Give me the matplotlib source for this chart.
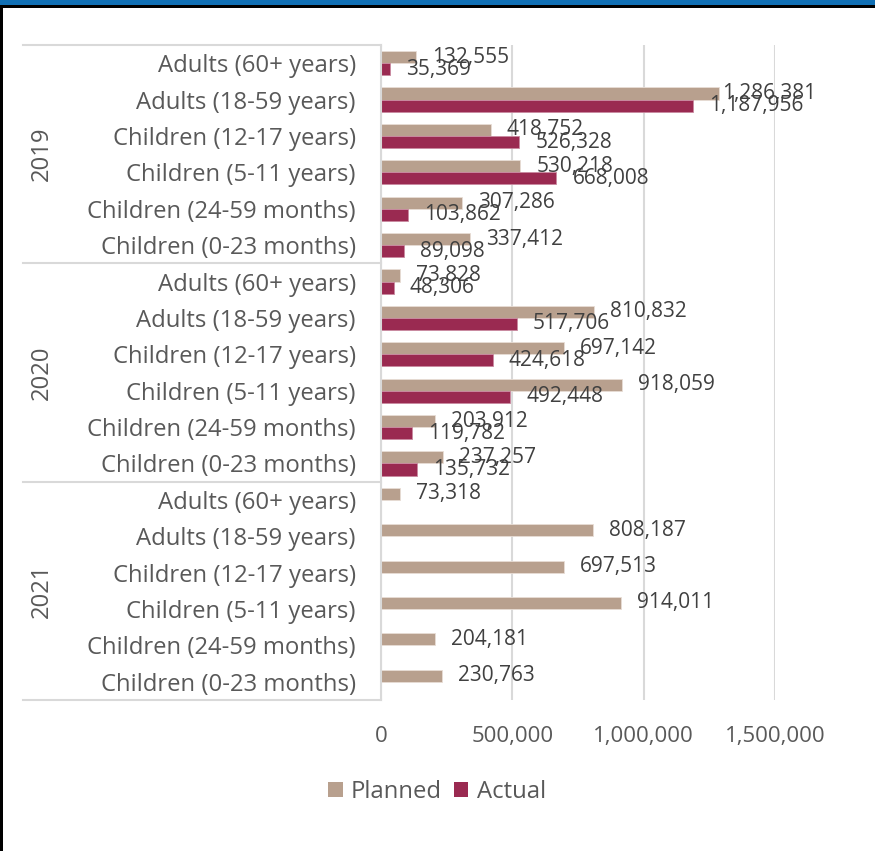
import matplotlib
matplotlib.use("Agg")
import matplotlib.pyplot as plt
from matplotlib.patches import Rectangle, Patch
import numpy as np

plt.rcParams['font.family'] = ['Open Sans', 'DejaVu Sans']

years = ["2019", "2020", "2021"]
groups = ["Adults (60+ years)", "Adults (18-59 years)", "Children (12-17 years)",
          "Children (5-11 years)", "Children (24-59 months)", "Children (0-23 months)"]

planned_2019 = [132555, 1286381, 418752, 530218, 307286, 337412]
actual_2019 = [35369, 1187956, 526328, 668008, 103862, 89098]
planned_2020 = [73828, 810832, 697142, 918059, 203912, 237257]
actual_2020 = [48306, 517706, 424618, 492448, 119782, 135732]
planned_2021 = [73318, 808187, 697513, 914011, 204181, 230763]
actual_2021 = [None, None, None, None, None, None]

x_ticks = [0, 500000, 1000000, 1500000]
x_tick_labels = ["0", "500,000", "1,000,000", "1,500,000"]

C_PLAN = "#B8A08E"
C_ACT = "#9A2A51"
C_TEXT = "#595959"
C_VAL = "#404040"
C_GRID = "#D9D9D9"

FS_CAT = 17.2
FS_VAL = 15
FS_TICK = 16

W, H = 875, 851
fig = plt.figure(figsize=(W / 100, H / 100), dpi=100)
fig.patch.set_facecolor("white")

ax_left, ax_right, ax_top, ax_bottom = 381, 775, 45, 700
ax = fig.add_axes([ax_left / W, 1 - ax_bottom / H, (ax_right - ax_left) / W, (ax_bottom - ax_top) / H])

planned = planned_2019 + planned_2020 + planned_2021
actual = actual_2019 + actual_2020 + actual_2021
labels = groups * 3
n = len(labels)
pos = np.arange(n) + 0.5
bh = 1 / 3

ax.barh(pos - bh / 2, planned, height=bh, color=C_PLAN, edgecolor="#E8DDD5", linewidth=0.6, zorder=3)
act_vals = [a if a is not None else 0 for a in actual]
act_mask = [a is not None for a in actual]
ax.barh(pos[act_mask] + bh / 2, np.array(act_vals)[act_mask], height=bh, color=C_ACT,
        edgecolor="#C98AA0", linewidth=0.6, zorder=3)

ax.set_xlim(0, 1500000)
ax.set_ylim(n, 0)

# labels that would run past the plot area are pulled back to stay inside
label_cap = 1237000
for i in range(n):
    ax.annotate(f"{planned[i]:,}", (min(planned[i], label_cap), pos[i] - bh / 2),
                xytext=(11.5, 0), textcoords="offset points", ha="left", va="center",
                fontsize=FS_VAL, color=C_VAL, annotation_clip=False, zorder=4)
    if actual[i] is not None:
        ax.annotate(f"{actual[i]:,}", (min(actual[i], label_cap), pos[i] + bh / 2),
                    xytext=(11.5, 0), textcoords="offset points", ha="left", va="center",
                    fontsize=FS_VAL, color=C_VAL, annotation_clip=False, zorder=4)

ax.set_yticks(pos)
ax.set_yticklabels(labels, fontsize=FS_CAT, color=C_TEXT)
ax.tick_params(axis="y", length=0, pad=18)
ax.set_xticks(x_ticks)
ax.set_xticklabels(x_tick_labels, fontsize=FS_TICK, color=C_TEXT)
ax.tick_params(axis="x", length=0, pad=19)

ax.grid(axis="x", color=C_GRID, linewidth=1.5, zorder=0)
ax.set_axisbelow(True)
for s in ["top", "right", "bottom"]:
    ax.spines[s].set_visible(False)
ax.spines["left"].set_color(C_GRID)
ax.spines["left"].set_linewidth(1.5)
ax.spines["left"].set_zorder(5)

# group separators and year labels in the category area
trans = ax.get_yaxis_transform()
x_sep0 = (23 - ax_left) / (ax_right - ax_left)
for b in [0, 6, 12, 18]:
    ax.plot([x_sep0, 0], [b, b], transform=trans, color=C_GRID, linewidth=1.5, clip_on=False)
x_year = (42 - ax_left) / (ax_right - ax_left)
for k, yr in enumerate(years):
    ax.text(x_year, 6 * k + 3, yr, transform=trans, rotation=90, ha="center", va="center",
            fontsize=FS_CAT, color=C_TEXT)

# legend
handles = [Patch(facecolor=C_PLAN, label="Planned"), Patch(facecolor=C_ACT, label="Actual")]
fig.legend(handles=handles, loc="center", bbox_to_anchor=(437 / W, 1 - 792 / H), ncol=2,
           frameon=False, fontsize=FS_CAT, labelcolor=C_TEXT, handlelength=0.6, handleheight=0.6,
           handletextpad=0.35, columnspacing=0.5)

# frame: blue band, dark rule and left border
fig.patches.append(Rectangle((0, 1 - 5 / H), 1, 5 / H, transform=fig.transFigure,
                             facecolor="#1170B5", edgecolor="none", zorder=10))
fig.patches.append(Rectangle((0, 1 - 8 / H), 1, 3 / H, transform=fig.transFigure,
                             facecolor="black", edgecolor="none", zorder=10))
fig.patches.append(Rectangle((0, 0), 2.5 / W, 1 - 5 / H, transform=fig.transFigure,
                             facecolor="black", edgecolor="none", zorder=10))

fig.savefig("out.png", dpi=100)
